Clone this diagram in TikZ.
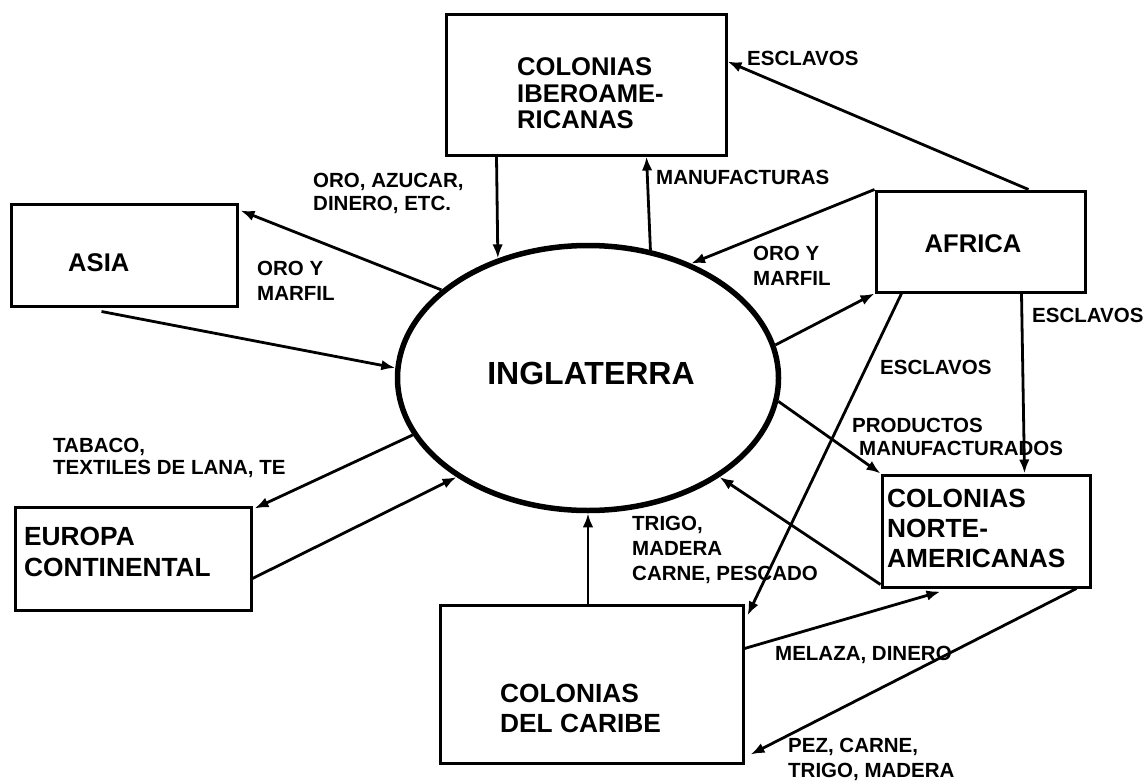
\documentclass[tikz,border=0pt]{standalone}
\usepackage{fontspec}
\setmainfont{Liberation Sans}
\usetikzlibrary{shapes.geometric,arrows.meta,calc}
\begin{document}
\begin{tikzpicture}[x=1pt,y=-1pt,
  box/.style={draw, line width=3pt, inner sep=0pt},
  arr/.style={line width=2.8pt, -{Latex[length=14pt,width=10.5pt]}},
  lbl/.style={anchor=west, align=left, inner sep=0pt, font=\fontsize{20.5}{25}\selectfont\bfseries},
  bigb/.style={anchor=west, align=left, inner sep=0pt, font=\fontsize{25.6}{26.5}\selectfont\bfseries},
  bigr/.style={anchor=west, align=left, inner sep=0pt, font=\fontsize{26.3}{30}\selectfont\bfseries},
]
\useasboundingbox (0,0) rectangle (1148,784);
\fill[white] (0,0) rectangle (1148,784);

% boxes
\node[box, minimum width=280pt, minimum height=140pt] (ibero) at (586,85) {};
\node[box, minimum width=226pt, minimum height=102pt] (asia) at (124,255) {};
\node[box, minimum width=236pt, minimum height=103pt] (europa) at (133,558.5) {};
\node[box, minimum width=209pt, minimum height=101pt] (africa) at (980.5,241.5) {};
\node[box, minimum width=208pt, minimum height=112pt] (norte) at (986,531) {};
\node[box, minimum width=303pt, minimum height=158pt] (caribe) at (591.5,684) {};
\node[ellipse, draw, line width=5.5pt, minimum width=381pt, minimum height=265pt, inner sep=0pt] (ell) at (588,378) {};

% box texts
\node[bigb] (tibero) at (517,93.5) {COLONIAS\\IBEROAME-\\RICANAS};
\node[bigb] (tasia) at (68,263) {ASIA};
\node[bigb, anchor=center] (tafrica) at (973,244) {AFRICA};
\node[inner sep=0pt, font=\fontsize{32}{36}\selectfont\bfseries] (tingl) at (591,373) {INGLATERRA};
\node[bigr, font=\fontsize{26.3}{31}\selectfont\bfseries] (teuropa) at (24,552) {EUROPA\\CONTINENTAL};
\node[bigr] (tnorte) at (887,528) {COLONIAS\\NORTE-\\AMERICANAS};
\node[bigr] (tcaribe) at (500,708) {COLONIAS\\DEL CARIBE};

% connectors
\draw[arr] ($(ibero.south west)+(52,0)$) -- (ell.127.6);
\draw[arr] (ell.64.6) -- ($(ibero.south west)+(202,0)$);
\draw[arr] ($(africa.north west)+(154,0)$) -- ($(ibero.north east)+(0,48)$);
\draw[arr] (africa.north west) -- (ell.48);
\draw[arr] (ell.10) -- (africa.south west);
\draw[arr] (ell.-7.5) -- (norte.north west);
\draw[arr] ($(norte.south west)+(0,-4)$) -- (ell.-37);
\draw[arr] (caribe.north -| ell.south) -- (ell.south);
\draw[arr] ($(africa.south west)+(27,0)$) -- ($(caribe.north east)+(3,12)$);
\draw[arr] ($(caribe.north east)+(0,45)$) -- ($(norte.south west)+(60,3)$);
\draw[arr] ($(norte.south east)+(-15,0)$) -- ($(caribe.south east)+(6,-10)$);
\draw[arr] ($(africa.south west)+(147,0)$) -- ($(norte.north west)+(144,0)$);
\draw[arr] (ell.149) -- ($(asia.north east)+(2,8)$);
\draw[arr] ($(asia.south west)+(92,4)$) -- (ell.177);
\draw[arr] (ell.198.6) -- ($(europa.north east)+(2,3)$);
\draw[arr] ($(europa.south east)+(0,-33)$) -- (ell.217.7);

% labels
\node[lbl] (l1) at (747,58) {ESCLAVOS};
\node[lbl] (l2) at (656,177) {MANUFACTURAS};
\node[lbl, font=\fontsize{20.5}{23}\selectfont\bfseries] (l3) at (313,193.5) {ORO, AZUCAR,\\DINERO, ETC.};
\node[lbl] (l4) at (257,280.5) {ORO Y\\MARFIL};
\node[lbl] (l5) at (753,265.5) {ORO Y\\MARFIL};
\node[lbl] (l6) at (1032,315) {ESCLAVOS};
\node[lbl] (l7) at (880,367) {ESCLAVOS};
\node[lbl, font=\fontsize{20.5}{23}\selectfont\bfseries] (l8) at (852,436.5) {PRODUCTOS\\\hspace*{7pt}MANUFACTURADOS};
\node[lbl, font=\fontsize{20.5}{22}\selectfont\bfseries] (l9) at (53,458) {TABACO,\\TEXTILES DE LANA, TE};
\node[lbl] (l10) at (632,550) {TRIGO,\\MADERA\\CARNE, PESCADO};
\node[lbl] (l11) at (775,655) {MELAZA, DINERO};
\node[lbl] (l12) at (788,759.5) {PEZ, CARNE,\\TRIGO, MADERA};
\end{tikzpicture}
\end{document}
